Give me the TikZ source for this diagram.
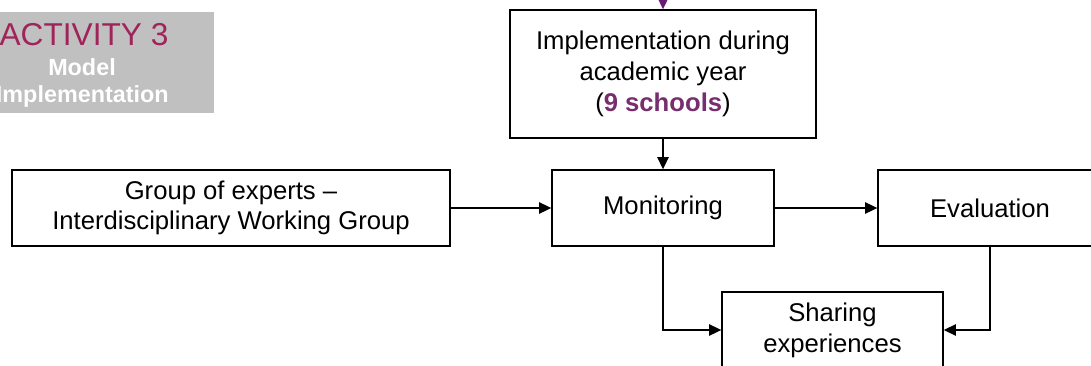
\documentclass[tikz,border=0pt]{standalone}
\usepackage{fontspec}
\setmainfont{Liberation Sans}
\usetikzlibrary{arrows.meta}

\definecolor{actred}{RGB}{160,35,90}
\definecolor{schoolpurple}{RGB}{120,45,110}
\definecolor{arrowpurple}{RGB}{105,25,120}
\definecolor{tagfill}{RGB}{192,192,192}

\begin{document}
\begin{tikzpicture}[x=0.02cm,y=-0.02cm,
  box/.style={draw,line width=0.8pt,align=center,inner sep=0pt,
    font=\fontsize{14.6}{17.5}\selectfont},
  flow/.style={-{Triangle[length=7pt,width=6.5pt]},line width=0.8pt},
  tagtext/.style={text=white,inner sep=0pt,font=\fontsize{13.3}{15}\selectfont\bfseries}]

\useasboundingbox (0,0) rectangle (1091,365);
\clip (0,0) rectangle (1091,365);

\node[fill=tagfill,minimum width=4.88cm,minimum height=2.02cm,inner sep=0pt] (tag) at (92,62.5) {};
\node[text=actred,inner sep=0pt,font=\fontsize{18}{20}\selectfont] (act) at (84,35) {ACTIVITY 3};
\node[tagtext] (model) at (82,67) {Model};
\node[tagtext,anchor=east] (implement) at (169,96) {Implementation};

\node[box,minimum width=6.12cm,minimum height=2.56cm] (year) at (663,74)
  {Implementation during\\academic year\\(\textcolor{schoolpurple}{\textbf{9 schools}})};

\node[box,minimum width=8.76cm,minimum height=1.52cm] (experts) at (231,208)
  {Group of experts --\\Interdisciplinary Working Group};

\node[box,minimum width=4.44cm,minimum height=1.52cm] (mon) at (663,208) {Monitoring};

\node[box,minimum width=4.48cm,minimum height=1.52cm] (eval) at (990,208) {Evaluation};

\node[box,minimum width=4.42cm,minimum height=1.52cm] (share) at (832.5,330)
  {Sharing\\experiences};

\coordinate (above) at (663,-30);

\draw[flow,arrowpurple] (above) -- (year.north);
\draw[flow] (year.south) -- (mon.north);
\draw[flow] (experts) -- (mon);
\draw[flow] (mon) -- (eval);
\draw[flow] (mon.south) |- (share.west);
\draw[flow] (eval.south) |- (share.east);

\end{tikzpicture}
\end{document}
